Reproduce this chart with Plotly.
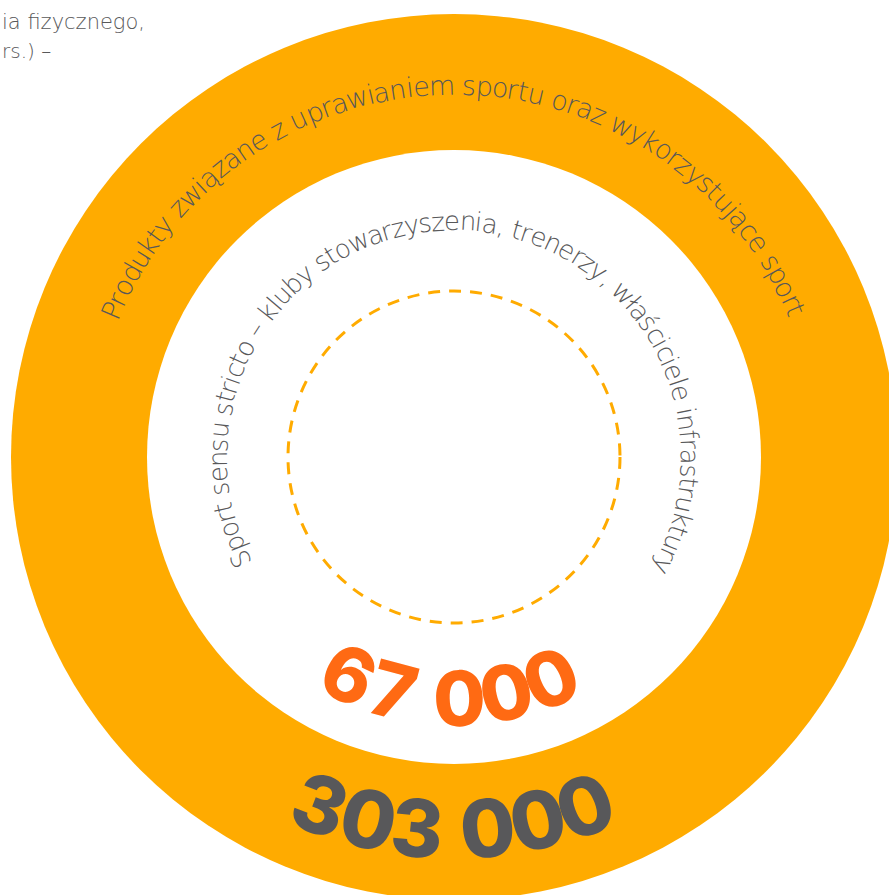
import math
import plotly.graph_objects as go

# ---- data ----
outer_label = "Produkty związane z uprawianiem sportu oraz wykorzystujące sport"
inner_label = "Sport sensu stricto – kluby stowarzyszenia, trenerzy, właściciele infrastruktury"
values = [67000, 303000]          # inner (sport sensu stricto), outer (all sport-related)
value_colors = ["#FF6A13", "#58585A"]
corner_lines = ["ia fizycznego,", "rs.) –"]

# ---- geometry / style ----
W, H = 889, 895
CX, CY = 454, 457
R_OUT, R_IN, R_DASH = 443, 307, 166
RING = "#FFAB00"
GRAY = "#58585A"
TXT_FONT = "DejaVu Sans"

EM = {' ': 0.318, 'a': 0.613, 'ą': 0.613, 'b': 0.635, 'c': 0.55, 'ć': 0.55, 'd': 0.635,
      'e': 0.615, 'ę': 0.615, 'f': 0.352, 'g': 0.635, 'h': 0.634, 'i': 0.278, 'j': 0.278,
      'k': 0.579, 'l': 0.278, 'ł': 0.3, 'm': 0.974, 'n': 0.634, 'o': 0.612, 'p': 0.635,
      'r': 0.411, 's': 0.521, 'ś': 0.521, 't': 0.392, 'u': 0.634, 'w': 0.818, 'y': 0.592,
      'z': 0.525, 'P': 0.603, 'S': 0.635, ',': 0.318, '–': 0.5}
for d in "0123456789":
    EM[d] = 0.6


def fmt(v):
    return f"{v:,}".replace(",", " ")


def arc_text(fig, text, r, a_first, a_last, size, color, weight, where="top",
             space=None, family=TXT_FONT):
    ws = [EM.get(c, 0.55) if not (c == ' ' and space) else space for c in text]
    centers, acc = [], 0.0
    for w in ws:
        centers.append(acc + w / 2)
        acc += w
    s0, s1 = centers[0], centers[-1]
    for ch, s in zip(text, centers):
        if ch == ' ':
            continue
        a = a_first + (s - s0) / (s1 - s0) * (a_last - a_first)
        t = math.radians(a)
        if where == "top":
            x, y, rot = CX + r * math.sin(t), CY - r * math.cos(t), a
        else:
            x, y, rot = CX + r * math.sin(t), CY + r * math.cos(t), -a
        fig.add_annotation(x=x, y=y, text=ch, showarrow=False, textangle=rot,
                           xanchor="center", yanchor="middle",
                           font=dict(family=family, size=size, color=color, weight=weight))


fig = go.Figure()
fig.add_trace(go.Scatter(x=[0, W], y=[0, H], mode="markers", marker=dict(opacity=0),
                         hoverinfo="skip", showlegend=False))

fig.add_shape(type="circle", xref="x", yref="y", x0=CX - R_OUT, x1=CX + R_OUT,
              y0=CY - R_OUT, y1=CY + R_OUT, fillcolor=RING, line=dict(width=0), layer="below")
fig.add_shape(type="circle", xref="x", yref="y", x0=CX - R_IN, x1=CX + R_IN,
              y0=CY - R_IN, y1=CY + R_IN, fillcolor="white", line=dict(width=0), layer="below")
fig.add_shape(type="circle", xref="x", yref="y", x0=CX - R_DASH, x1=CX + R_DASH,
              y0=CY - R_DASH, y1=CY + R_DASH, fillcolor="rgba(0,0,0,0)",
              line=dict(color=RING, width=3, dash="12px,9px"), layer="below")

arc_text(fig, outer_label, 372, -66.8, 66.8, 27, GRAY, 200, "top")
arc_text(fig, inner_label, 236, -115.4, 117.5, 26, GRAY, 200, "top")
arc_text(fig, fmt(values[0]), 241, -25.8, 23.7, 76, value_colors[0], 800, "bottom",
         space=0.25, family="Inter")
arc_text(fig, fmt(values[1]), 372, -21.0, 20.6, 80, value_colors[1], 800, "bottom",
         space=0.25, family="Inter")

fig.add_annotation(x=0, y=22, text=corner_lines[0], showarrow=False, xanchor="left",
                   yanchor="middle", font=dict(family=TXT_FONT, size=21, color=GRAY, weight=200))
fig.add_annotation(x=0, y=51, text=corner_lines[1], showarrow=False, xanchor="left",
                   yanchor="middle", font=dict(family=TXT_FONT, size=20, color=GRAY, weight=200))

fig.update_layout(width=W, height=H, margin=dict(l=0, r=0, t=0, b=0),
                  paper_bgcolor="white", plot_bgcolor="white", showlegend=False,
                  xaxis=dict(range=[0, W], visible=False, fixedrange=True),
                  yaxis=dict(range=[H, 0], visible=False, fixedrange=True))
fig.write_html("out.html", config={"displayModeBar": False})
